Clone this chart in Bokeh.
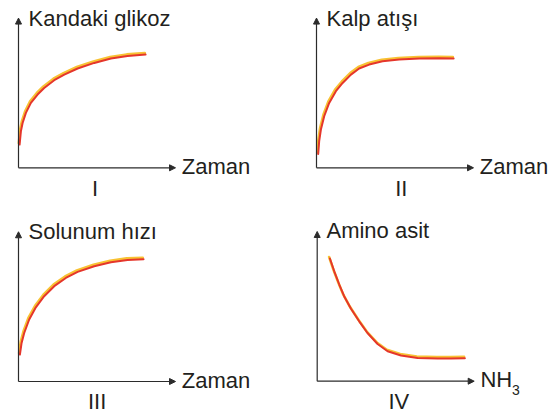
from bokeh.plotting import figure
from bokeh.layouts import gridplot
from bokeh.models import Range1d, Arrow, NormalHead, Label
from bokeh.embed import file_html
from bokeh.resources import INLINE

# ---- data (time / NH3 on x, 0-100 % of axis; quantity on y, 0-100 % of axis) ----
t1 = [0.45, 1.27, 2.36, 4.46, 7.64, 11.9, 16.1, 22.5, 28.9, 37.4, 48.0, 58.6, 69.2, 80.7]
v1 = [15.8, 24.5, 30.0, 36.6, 43.2, 48.7, 53.0, 58.1, 61.8, 65.8, 69.5, 72.4, 74.1, 75.0]

t2 = [0.83, 1.46, 2.55, 4.65, 7.83, 12.1, 16.4, 21.7, 26.9, 33.3, 41.8, 52.4, 65.2, 77.9, 87.1]
v2 = [9.6, 18.0, 25.7, 34.4, 43.2, 50.9, 56.3, 61.8, 65.8, 68.4, 70.6, 71.7, 72.4, 72.6, 72.4]

t3 = [0.64, 1.72, 3.38, 6.56, 10.8, 16.1, 22.5, 29.9, 37.4, 48.0, 58.6, 69.2, 79.4]
v3 = [18.2, 25.9, 32.4, 41.3, 49.3, 56.6, 63.2, 68.6, 72.6, 76.3, 78.9, 80.5, 80.9]

t4 = [7.83, 10.6, 13.8, 16.9, 21.2, 26.5, 31.8, 38.2, 44.6, 53.1, 63.7, 76.4, 84.9, 93.8]
v4 = [81.2, 72.8, 64.1, 56.4, 48.3, 39.9, 32.2, 25.0, 20.2, 17.4, 15.8, 15.4, 15.4, 15.6]

y_labels = ["Kandaki glikoz", "Kalp atışı", "Solunum hızı", "Amino asit"]
x_labels = ["Zaman", "Zaman", "Zaman", "NH"]
x_subs = ["", "", "", "3"]
numerals = ["I", "II", "III", "IV"]

# ---- styling / layout ----
PXX, PXY = 1.57, 1.52          # pixels per axis unit
FONT = "Liberation Sans"
FS = "22px"
TXT = "#231f20"
AX = "#2b2b2b"
YEL = "#f8c233"
RED = "#e5362b"


def panel(t, v, ylab, xlab, xsub, num, W, H, ox, ob, ylab_x, ylab_y, num_x, num_y):
    # ox: origin x in px from left; ob: origin y in px from bottom
    p = figure(width=W, height=H, output_backend="svg", toolbar_location=None,
               x_axis_type=None, y_axis_type=None, min_border=0,
               x_range=Range1d(-ox / PXX, (W - ox) / PXX),
               y_range=Range1d(-ob / PXY, (H - ob) / PXY))
    p.grid.visible = False
    p.outline_line_color = None
    p.background_fill_color = "white"
    p.border_fill_color = "white"

    # axes with arrow heads
    p.add_layout(Arrow(x_start=0, y_start=0, x_end=100, y_end=0,
                       line_color=AX, line_width=1.2,
                       end=NormalHead(size=6, fill_color=AX, line_color=AX, line_width=1)))
    p.add_layout(Arrow(x_start=0, y_start=0, x_end=0, y_end=98.5,
                       line_color=AX, line_width=1.2,
                       end=NormalHead(size=6, fill_color=AX, line_color=AX, line_width=1)))

    # two-tone curve
    up = 0.75 / PXY
    p.line([x - 0.25 for x in t], [y + up for y in v], line_color=YEL, line_width=2.6,
           line_join="round", line_cap="round")
    p.line([x + 0.25 for x in t], [y - up for y in v], line_color=RED, line_width=2.0,
           line_join="round", line_cap="round")

    p.add_layout(Label(x=ylab_x, y=ylab_y, text=ylab, text_font=FONT, text_font_size=FS,
                       text_color=TXT, text_baseline="alphabetic", text_align="left"))
    p.add_layout(Label(x=104.0, y=0.9, text=xlab, text_font=FONT, text_font_size=FS,
                       text_color=TXT, text_baseline="alphabetic", text_align="left"))
    if xsub:
        p.add_layout(Label(x=124.0, y=-5.5, text=xsub, text_font=FONT, text_font_size="14px",
                           text_color=TXT, text_baseline="alphabetic", text_align="left"))
    p.add_layout(Label(x=num_x, y=num_y, text=num, text_font=FONT, text_font_size=FS,
                       text_color=TXT, text_baseline="alphabetic", text_align="center"))
    return p


p1 = panel(t1, v1, y_labels[0], x_labels[0], x_subs[0], numerals[0],
           277, 207, 18.0, 39.7, 6.4, 98.2, 48.7, -13.6)
p2 = panel(t2, v2, y_labels[1], x_labels[1], x_subs[1], numerals[1],
           277, 207, 39.0, 39.7, 6.4, 98.2, 54.0, -13.6)
p3 = panel(t3, v3, y_labels[2], x_labels[2], x_subs[2], numerals[2],
           277, 208, 18.0, 34.0, 6.4, 98.7, 50.1, -13.3)
p4 = panel(t4, v4, y_labels[3], x_labels[3], x_subs[3], numerals[3],
           277, 208, 39.7, 34.3, 5.9, 98.9, 52.0, -13.4)

grid = gridplot([[p1, p2], [p3, p4]], toolbar_location=None)

open("out.html", "w").write(file_html(grid, INLINE))
